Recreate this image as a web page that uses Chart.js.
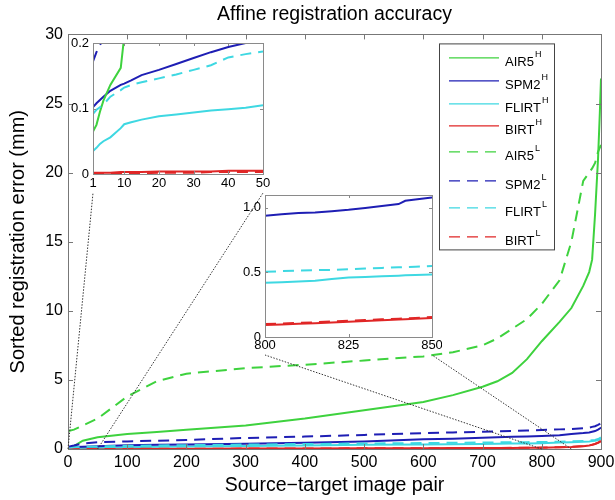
<!DOCTYPE html>
<html lang="en">
<head>
<meta charset="UTF-8">
<title>Affine registration accuracy</title>
<script src="https://cdn.jsdelivr.net/npm/chart.js"></script>
<style>
  body { margin: 0; background: #fff; }
  #wrap { position: relative; width: 615px; height: 500px; }
  #wrap canvas { position: absolute; }
</style>
</head>
<body>
<div id="wrap">
  <canvas id="mainChart" width="615" height="500" style="left:0;top:0"></canvas>
  <canvas id="zoomStart" width="210" height="166" style="left:60px;top:30px"></canvas>
  <canvas id="zoomEnd" width="210" height="178" style="left:232px;top:182px"></canvas>
</div>
<script>
// ---- data ----
const methods = ['AIR5', 'SPM2', 'FLIRT', 'BIRT'];

// whole range, sorted error per image pair
const pairIdx = [1, 10, 25, 50, 100, 150, 200, 300, 400, 500, 600, 650, 700, 725, 750, 775, 800, 830, 850, 870, 880, 885, 890, 895, 898, 900];
const air5H  = [0.065, 0.21, 0.6, 0.85, 1.08, 1.23, 1.4, 1.7, 2.2, 2.8, 3.4, 3.9, 4.5, 4.9, 5.5, 6.5, 7.8, 9.2, 10.2, 11.8, 12.8, 13.7, 17.0, 21.0, 24.3, 26.8];
const spm2H  = [0.102, 0.138, 0.168, 0.203, 0.28, 0.3, 0.32, 0.38, 0.45, 0.55, 0.7, 0.75, 0.82, 0.85, 0.88, 0.91, 0.94, 1.0, 1.08, 1.15, 1.2, 1.25, 1.3, 1.4, 1.48, 1.55];
const flirtH = [0.035, 0.076, 0.091, 0.105, 0.13, 0.16, 0.18, 0.22, 0.26, 0.3, 0.33, 0.35, 0.37, 0.38, 0.39, 0.405, 0.42, 0.465, 0.485, 0.52, 0.55, 0.57, 0.6, 0.65, 0.7, 0.75];
const birtH  = [0.002, 0.003, 0.004, 0.005, 0.01, 0.015, 0.02, 0.03, 0.04, 0.05, 0.06, 0.065, 0.07, 0.075, 0.08, 0.086, 0.093, 0.124, 0.147, 0.2, 0.26, 0.3, 0.36, 0.45, 0.52, 0.6];
const air5L  = [1.3, 1.4, 1.7, 2.2, 3.8, 4.9, 5.45, 5.85, 6.1, 6.4, 6.7, 7.0, 7.5, 8.0, 8.7, 9.4, 10.5, 12.2, 15.0, 19.4, 20.0, 20.3, 20.7, 21.5, 21.8, 22.0];
const spm2L  = [0.172, 0.25, 0.4, 0.5, 0.55, 0.6, 0.65, 0.8, 0.9, 1.02, 1.15, 1.2, 1.25, 1.27, 1.3, 1.33, 1.37, 1.42, 1.45, 1.5, 1.55, 1.6, 1.65, 1.75, 1.82, 1.9];
const flirtL = [0.092, 0.132, 0.152, 0.187, 0.23, 0.26, 0.28, 0.32, 0.36, 0.4, 0.43, 0.45, 0.47, 0.48, 0.49, 0.497, 0.505, 0.53, 0.55, 0.57, 0.6, 0.63, 0.66, 0.72, 0.78, 0.85];
const birtL  = [0.0, 0.001, 0.002, 0.003, 0.008, 0.013, 0.018, 0.028, 0.038, 0.048, 0.058, 0.065, 0.072, 0.078, 0.085, 0.092, 0.1, 0.131, 0.155, 0.21, 0.27, 0.31, 0.37, 0.46, 0.53, 0.62];

// inset: first 50 pairs
const startIdx    = [1, 2, 3, 4, 6, 9, 10, 12, 15, 20, 25, 30, 35, 40, 45, 50];
const startAir5H  = [0.065, 0.075, 0.095, 0.112, 0.136, 0.162, 0.21, 0.28, 0.35, 0.45, 0.6, 0.66, 0.72, 0.77, 0.81, 0.85];
const startSpm2H  = [0.102, 0.108, 0.113, 0.118, 0.127, 0.136, 0.138, 0.143, 0.151, 0.159, 0.168, 0.177, 0.186, 0.194, 0.2, 0.203];
const startFlirtH = [0.035, 0.04, 0.046, 0.05, 0.056, 0.07, 0.076, 0.079, 0.083, 0.088, 0.091, 0.094, 0.097, 0.099, 0.101, 0.105];
const startBirtH  = [0.002, 0.002, 0.002, 0.002, 0.002, 0.003, 0.003, 0.003, 0.003, 0.004, 0.004, 0.004, 0.004, 0.005, 0.005, 0.005];
const startAir5L  = [1.3, 1.3, 1.32, 1.33, 1.35, 1.38, 1.4, 1.43, 1.47, 1.55, 1.7, 1.8, 1.9, 2.0, 2.1, 2.2];
const startSpm2L  = [0.172, 0.186, 0.197, 0.205, 0.215, 0.235, 0.25, 0.27, 0.3, 0.34, 0.4, 0.43, 0.46, 0.48, 0.49, 0.5];
const startFlirtL = [0.092, 0.098, 0.102, 0.106, 0.118, 0.128, 0.132, 0.136, 0.14, 0.146, 0.152, 0.159, 0.166, 0.178, 0.183, 0.187];
const startBirtL  = [0.0, 0.0, 0.0, 0.0, 0.001, 0.001, 0.001, 0.001, 0.001, 0.002, 0.002, 0.002, 0.003, 0.003, 0.003, 0.003];

// inset: pairs 800-850
const endIdx    = [800, 805, 810, 815, 820, 825, 830, 835, 840, 842, 845, 850];
const endAir5H  = [7.8, 8.0, 8.25, 8.5, 8.75, 9.0, 9.2, 9.45, 9.7, 9.8, 9.95, 10.2];
const endSpm2H  = [0.94, 0.95, 0.96, 0.965, 0.975, 0.985, 1.0, 1.015, 1.03, 1.055, 1.065, 1.08];
const endFlirtH = [0.42, 0.425, 0.43, 0.435, 0.45, 0.46, 0.465, 0.47, 0.475, 0.478, 0.48, 0.485];
const endBirtH  = [0.093, 0.097, 0.102, 0.107, 0.112, 0.118, 0.124, 0.13, 0.135, 0.138, 0.141, 0.147];
const endAir5L  = [10.5, 10.8, 11.0, 11.3, 11.6, 11.9, 12.2, 12.7, 13.3, 13.6, 14.1, 15.0];
const endSpm2L  = [1.37, 1.38, 1.39, 1.4, 1.4, 1.41, 1.42, 1.43, 1.44, 1.44, 1.45, 1.45];
const endFlirtL = [0.505, 0.51, 0.515, 0.518, 0.52, 0.525, 0.53, 0.535, 0.54, 0.542, 0.545, 0.55];
const endBirtL  = [0.1, 0.104, 0.109, 0.114, 0.12, 0.126, 0.131, 0.137, 0.142, 0.145, 0.148, 0.155];

const xTicksMain = [0, 100, 200, 300, 400, 500, 600, 700, 800, 900];
const yTicksMain = [0, 5, 10, 15, 20, 25, 30];
const xTicksStart = [1, 10, 20, 30, 40, 50];
const yTicksStart = [0, 0.1, 0.2];
const xTicksEnd = [800, 825, 850];
const yTicksEnd = [0, 0.5, 1.0];

// ---- styling ----
const colours = ['#3ed23e', '#1e1eb4', '#3ed8e2', '#e02626'];
const FONT = "'Liberation Sans', Arial, Helvetica, sans-serif";
Chart.defaults.font.family = FONT;
Chart.defaults.color = '#000';

function buildSets(xs, hiSeries, loSeries) {
  const sets = [];
  loSeries.forEach((vals, i) => sets.push({
    label: methods[i] + ' L', data: xs.map((x, k) => ({ x: x, y: vals[k] })),
    borderColor: colours[i], borderWidth: 2, borderDash: [11, 7], pointRadius: 0, tension: 0
  }));
  hiSeries.forEach((vals, i) => sets.push({
    label: methods[i] + ' H', data: xs.map((x, k) => ({ x: x, y: vals[k] })),
    borderColor: colours[i], borderWidth: 2, pointRadius: 0, tension: 0
  }));
  return sets;
}

function fixTicks(list) {
  return scale => { scale.ticks = list.map(v => ({ value: v })); };
}

// keep the plot box where layout.padding puts it, labels may overhang
function fixSize(prop, size) {
  return s => {
    s[prop] = size;
    s.paddingLeft = 0; s.paddingRight = 0; s.paddingTop = 0; s.paddingBottom = 0;
  };
}

// frame around plot area with inward tick marks (matlab look)
const framePlugin = {
  id: 'frame',
  beforeDatasetsDraw(chart, args, opts) {
    if (!opts.fill) return;
    const a = chart.chartArea;
    chart.ctx.save();
    chart.ctx.fillStyle = '#fff';
    chart.ctx.fillRect(a.left, a.top, a.width, a.height);
    chart.ctx.restore();
  },
  afterDatasetsDraw(chart, args, opts) {
    const { ctx, chartArea: a, scales: { x, y } } = chart;
    ctx.save();
    ctx.strokeStyle = opts.color;
    ctx.lineWidth = 1;
    ctx.setLineDash([]);
    ctx.beginPath();
    x.ticks.forEach(t => {
      const px = Math.round(x.getPixelForValue(t.value)) + 0.5;
      ctx.moveTo(px, a.bottom); ctx.lineTo(px, a.bottom - opts.len);
      ctx.moveTo(px, a.top); ctx.lineTo(px, a.top + opts.len);
    });
    y.ticks.forEach(t => {
      const py = Math.round(y.getPixelForValue(t.value)) + 0.5;
      ctx.moveTo(a.left, py); ctx.lineTo(a.left + opts.len, py);
      ctx.moveTo(a.right, py); ctx.lineTo(a.right - opts.len, py);
    });
    ctx.stroke();
    ctx.strokeRect(Math.round(a.left) + 0.5, Math.round(a.top) + 0.5, Math.round(a.width), Math.round(a.height));
    ctx.restore();
  }
};

function insetConfig(xs, hi, lo, xr, yr, xt, yt, fmt, box) {
  return {
    type: 'line',
    data: { datasets: buildSets(xs, hi, lo) },
    plugins: [framePlugin],
    options: {
      responsive: false, animation: false, events: [],
      layout: { padding: { left: 0, top: box.top, right: box.right, bottom: 0 } },
      plugins: { legend: { display: false }, tooltip: { enabled: false }, frame: { color: '#8a8a8a', len: 3, fill: true } },
      scales: {
        x: {
          type: 'linear', min: xr[0], max: xr[1],
          afterBuildTicks: fixTicks(xt),
          afterFit: fixSize('height', box.xh),
          grid: { display: false, drawTicks: false }, border: { display: false },
          ticks: { font: { size: 13 }, padding: box.xpad, maxRotation: 0, autoSkip: false }
        },
        y: {
          min: yr[0], max: yr[1],
          afterBuildTicks: fixTicks(yt),
          afterFit: fixSize('width', box.yw),
          grid: { display: false, drawTicks: false }, border: { display: false },
          ticks: { font: { size: 13 }, padding: 4, callback: fmt }
        }
      }
    }
  };
}

const startChart = new Chart(document.getElementById('zoomStart'), insetConfig(
  startIdx,
  [startAir5H, startSpm2H, startFlirtH, startBirtH],
  [startAir5L, startSpm2L, startFlirtL, startBirtL],
  [1, 50], [0, 0.2], xTicksStart, yTicksStart,
  v => v === 0 ? '0' : v.toFixed(1),
  { top: 13, right: 7, xh: 22, yw: 33, xpad: 2 }
));

const endChart = new Chart(document.getElementById('zoomEnd'), insetConfig(
  endIdx,
  [endAir5H, endSpm2H, endFlirtH, endBirtH],
  [endAir5L, endSpm2L, endFlirtL, endBirtL],
  [800, 850], [0, 1.1], xTicksEnd, yTicksEnd,
  v => v === 0 ? '0' : v.toFixed(1),
  { top: 13, right: 10, xh: 23, yw: 33, xpad: 1 }
));

// dotted lines from the zoomed range on the main axis to each inset
const connectorPlugin = {
  id: 'connectors',
  afterDatasetsDraw(chart) {
    const { ctx, scales: { x, y } } = chart;
    const links = [
      { inset: startChart, from: [xTicksStart[0] - 1, xTicksStart[xTicksStart.length - 1]], gap: 19 },
      { inset: endChart, from: [xTicksEnd[0], xTicksEnd[xTicksEnd.length - 1]], gap: 18 }
    ];
    ctx.save();
    ctx.strokeStyle = '#333';
    ctx.lineWidth = 1;
    ctx.setLineDash([1.5, 1.5]);
    links.forEach(l => {
      const cv = l.inset.canvas, a = l.inset.chartArea;
      const ox = cv.offsetLeft, oy = cv.offsetTop;
      const ends = [ox + a.left, ox + a.right];
      l.from.forEach((v, i) => {
        ctx.beginPath();
        ctx.moveTo(x.getPixelForValue(v), y.getPixelForValue(0));
        ctx.lineTo(ends[i], oy + a.bottom + l.gap);
        ctx.stroke();
      });
    });
    ctx.restore();
  }
};

// legend box with superscripts
const legendRows = [14, 37, 60, 82, 108, 137, 164, 193];
const legendPlugin = {
  id: 'supLegend',
  afterDraw(chart) {
    const { ctx, chartArea: a } = chart;
    const left = a.right - 162, top = a.top + 9, w = 115, h = 206;
    ctx.save();
    ctx.fillStyle = '#fff';
    ctx.fillRect(left, top, w, h);
    ctx.strokeStyle = '#444';
    ctx.lineWidth = 1;
    ctx.strokeRect(left + 0.5, top + 0.5, w, h);
    const entries = [];
    ['H', 'L'].forEach((sup, g) => methods.forEach((m, i) => entries.push({ name: m, sup: sup, col: colours[i], dash: g === 1 })));
    entries.forEach((e, r) => {
      const yy = top + legendRows[r];
      ctx.strokeStyle = e.col;
      ctx.lineWidth = 1.2;
      ctx.setLineDash(e.dash ? [11, 7] : []);
      ctx.beginPath();
      ctx.moveTo(left + 10, yy + 0.5);
      ctx.lineTo(left + 60, yy + 0.5);
      ctx.stroke();
      ctx.setLineDash([]);
      ctx.fillStyle = '#000';
      ctx.textBaseline = 'middle';
      ctx.font = '13px ' + FONT;
      ctx.fillText(e.name, left + 66, yy + 5);
      const tw = ctx.measureText(e.name).width;
      ctx.font = '9px ' + FONT;
      ctx.fillText(e.sup, left + 67 + tw, yy - 3);
    });
    ctx.restore();
  }
};

new Chart(document.getElementById('mainChart'), {
  type: 'line',
  data: { datasets: buildSets(pairIdx, [air5H, spm2H, flirtH, birtH], [air5L, spm2L, flirtL, birtL]) },
  plugins: [framePlugin, connectorPlugin, legendPlugin],
  options: {
    responsive: false, animation: false, events: [],
    layout: { padding: { left: 0, right: 14, top: 0, bottom: 0 } },
    plugins: {
      legend: { display: false },
      tooltip: { enabled: false },
      title: { display: true, fullSize: false, text: 'Affine registration accuracy', font: { size: 19.5, weight: 'normal' }, color: '#000', padding: { top: 3, bottom: 8 } },
      frame: { color: '#777', len: 5, fill: false }
    },
    scales: {
      x: {
        type: 'linear', min: 0, max: 900,
        afterBuildTicks: fixTicks(xTicksMain),
        afterFit: fixSize('height', 51),
        grid: { display: false, drawTicks: false }, border: { display: false },
        ticks: { font: { size: 16 }, padding: 4, maxRotation: 0, autoSkip: false },
        title: { display: true, text: 'Source\u2212target image pair', font: { size: 19.5 }, padding: { top: 0, bottom: 3 } }
      },
      y: {
        min: 0, max: 30,
        afterBuildTicks: fixTicks(yTicksMain),
        afterFit: fixSize('width', 68),
        grid: { display: false, drawTicks: false }, border: { display: false },
        ticks: { font: { size: 16 }, padding: 5 },
        title: { display: true, text: 'Sorted registration error (mm)', font: { size: 20 }, padding: { top: 6, bottom: 0 } }
      }
    }
  }
});
</script>
</body>
</html>
